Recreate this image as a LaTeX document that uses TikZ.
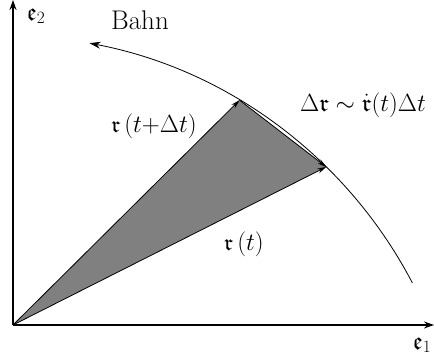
\documentclass[tikz,border=0pt]{standalone}
\usepackage{amsmath,amssymb}
\usetikzlibrary{arrows.meta,calc}

\begin{document}
\begin{tikzpicture}[x=1pt, y=1pt]
    \tikzstyle{axis} = [line width=1.8pt, -{Stealth[length=10pt, width=7pt]}, draw=black]
    \tikzstyle{vec} = [line width=0.8pt, -{Stealth[length=9pt, width=5pt]}, draw=black]
    \tikzstyle{lbl} = [font=\fontsize{23}{28}\selectfont, inner sep=0pt]
    \useasboundingbox (0,0) rectangle (434,356);

    \coordinate (O) at (13,31);
    \coordinate (X) at (434,31);
    \coordinate (Y) at (13,356);
    \coordinate (M) at (3,-141); % centre of the Bahn
    \coordinate (S) at ($(M)+(27.6:462)$);
    \coordinate (A) at ($(M)+(45.6:462)$);
    \coordinate (B) at ($(M)+(59.2:462)$);

    \fill [black!50] (O) -- (A) -- (B) -- cycle;
    \draw [vec] (O) -- (A);
    \draw [vec] (O) -- (B);
    \draw [vec] (B) -- (A);
    \draw [vec, -{Stealth[length=11pt, width=7pt]}] (S) arc [start angle=27.6, end angle=79.2, radius=462pt];

    \draw [axis] (O) -- (X);
    \draw [axis] (O) -- (Y);

    \node [lbl, font=\fontsize{25}{30}\selectfont] (e1) at (422,11) {$\mathfrak{e}_1$};
    \node [lbl, font=\fontsize{25}{30}\selectfont] (e2) at (36,340) {$\mathfrak{e}_2$};
    \node [lbl, font=\fontsize{27}{32}\selectfont] (bahn) at (140,336) {Bahn};
    \node [lbl] (rtdt) at (154,230) {$\mathfrak{r}\,(t{+}\Delta t)$};
    \node [lbl, font=\fontsize{24.5}{30}\selectfont] (dr) at (363,251) {$\Delta\mathfrak{r}\sim\dot{\mathfrak{r}}(t)\Delta t$};
    \node [lbl] (rt) at (244,112) {$\mathfrak{r}\,(t)$};
\end{tikzpicture}
\end{document}
